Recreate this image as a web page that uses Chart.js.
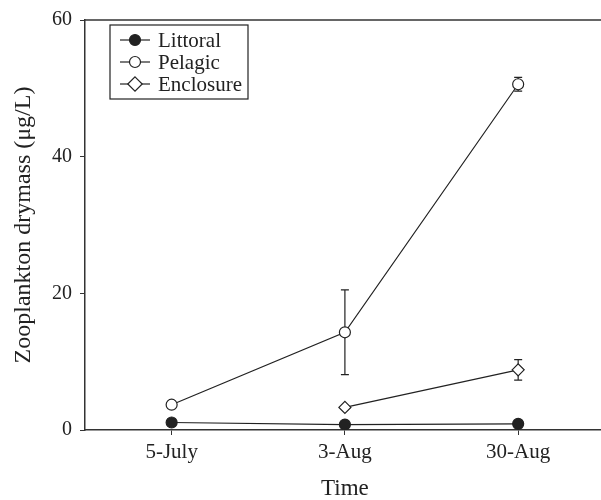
<!DOCTYPE html>
<html>
<head>
<meta charset="utf-8">
<title>Zooplankton drymass</title>
<script src="https://cdn.jsdelivr.net/npm/chart.js"></script>
<style>
  html, body { margin:0; padding:0; background:#fff; overflow:hidden; }
  #wrap { width:612px; height:500px; }
</style>
</head>
<body>
<div id="wrap"><canvas id="chart" width="612" height="500"></canvas></div>
<script>
// data
const dates = ["5-July", "3-Aug", "30-Aug"];
const littoral = [1.1, 0.8, 0.9];
const pelagic = [3.7, 14.3, 50.6];
const pelagicErr = [0, 6.2, 1.0];
const enclosure = [null, 3.3, 8.8];
const enclosureErr = [0, 0, 1.5];
const yTicks = [0, 20, 40, 60];

const ink = "#222";
const serif = "'Liberation Serif', 'DejaVu Serif', serif";

// error bars go under the markers
const errorBars = {
  id: "errorBars",
  beforeDatasetsDraw(chart) {
    const ctx = chart.ctx;
    const y = chart.scales.y;
    chart.data.datasets.forEach((ds, i) => {
      if (!ds.errors) return;
      const meta = chart.getDatasetMeta(i);
      meta.data.forEach((pt, j) => {
        const e = ds.errors[j];
        if (!e || ds.data[j] == null) return;
        const top = y.getPixelForValue(ds.data[j] + e);
        const bot = y.getPixelForValue(ds.data[j] - e);
        ctx.save();
        ctx.strokeStyle = ink;
        ctx.lineWidth = 1.2;
        ctx.beginPath();
        ctx.moveTo(pt.x, top); ctx.lineTo(pt.x, bot);
        ctx.moveTo(pt.x - 4, top); ctx.lineTo(pt.x + 4, top);
        ctx.moveTo(pt.x - 4, bot); ctx.lineTo(pt.x + 4, bot);
        ctx.stroke();
        ctx.restore();
      });
    });
  }
};

// top frame line
const frame = {
  id: "frame",
  afterDraw(chart) {
    const { ctx, chartArea } = chart;
    ctx.save();
    ctx.strokeStyle = "#333";
    ctx.lineWidth = 1.5;
    ctx.beginPath();
    ctx.moveTo(chartArea.left, chartArea.top);
    ctx.lineTo(chart.width, chartArea.top);
    ctx.stroke();
    ctx.restore();
  }
};

// boxed legend in the top-left corner
const boxLegend = {
  id: "boxLegend",
  afterDraw(chart) {
    const ctx = chart.ctx;
    ctx.save();
    ctx.strokeStyle = ink;
    ctx.lineWidth = 1.2;
    ctx.strokeRect(110, 25, 138, 74);
    ctx.font = "21px " + serif;
    ctx.textBaseline = "middle";
    chart.data.datasets.forEach((ds, i) => {
      const yy = 40 + i * 22;
      ctx.strokeStyle = ink;
      ctx.lineWidth = 1.2;
      ctx.beginPath();
      ctx.moveTo(120, yy); ctx.lineTo(150, yy);
      ctx.stroke();
      ctx.fillStyle = ds.pointBackgroundColor;
      ctx.beginPath();
      if (ds.pointStyle === "rectRot") {
        const r = ds.pointRadius * 1.2;
        ctx.moveTo(135, yy - r); ctx.lineTo(135 + r, yy);
        ctx.lineTo(135, yy + r); ctx.lineTo(135 - r, yy); ctx.closePath();
      } else {
        ctx.arc(135, yy, ds.pointRadius, 0, Math.PI * 2);
      }
      ctx.fill();
      ctx.stroke();
      ctx.fillStyle = ink;
      ctx.fillText(ds.label, 158, yy + 1);
    });
    ctx.restore();
  }
};

function series(label, data, errors, style, fill, r) {
  return {
    label, data, errors,
    borderColor: ink,
    borderWidth: 1.2,
    pointStyle: style,
    pointRadius: r,
    pointBackgroundColor: fill,
    pointBorderColor: ink,
    pointBorderWidth: 1.2,
    tension: 0
  };
}

new Chart(document.getElementById("chart"), {
  type: "line",
  data: {
    labels: dates,
    datasets: [
      series("Littoral", littoral, null, "circle", ink, 5.5),
      series("Pelagic", pelagic, pelagicErr, "circle", "#fff", 5.5),
      series("Enclosure", enclosure, enclosureErr, "rectRot", "#fff", 6)
    ]
  },
  plugins: [errorBars, frame, boxLegend],
  options: {
    responsive: false,
    animation: false,
    layout: { padding: { top: 15, left: 0, right: 0, bottom: 0 } },
    plugins: { legend: { display: false }, tooltip: { enabled: false } },
    scales: {
      x: {
        offset: true,
        afterFit(s) { s.height = 70; },
        grid: { drawOnChartArea: false, drawTicks: true, tickLength: 5, color: "#333", offset: false },
        border: { display: true, color: "#333", width: 1.5 },
        ticks: { color: ink, font: { family: serif, size: 21 }, padding: 5, maxRotation: 0 },
        title: { display: true, text: "Time", color: ink, font: { family: serif, size: 23, lineHeight: 1.0 }, padding: { top: 4, bottom: 0 } }
      },
      y: {
        min: 0, max: 60,
        afterFit(s) { s.width = 85; },
        afterBuildTicks(s) { s.ticks = yTicks.map(v => ({ value: v })); },
        grid: { drawOnChartArea: false, drawTicks: true, tickLength: 5, color: "#333" },
        border: { display: true, color: "#333", width: 1.5 },
        ticks: { color: ink, font: { family: serif, size: 20 }, padding: 8 },
        title: { display: true, text: "Zooplankton drymass (μg/L)", color: ink, font: { family: serif, size: 24 }, padding: { top: 9, bottom: 0 } }
      }
    }
  }
});
</script>
</body>
</html>
